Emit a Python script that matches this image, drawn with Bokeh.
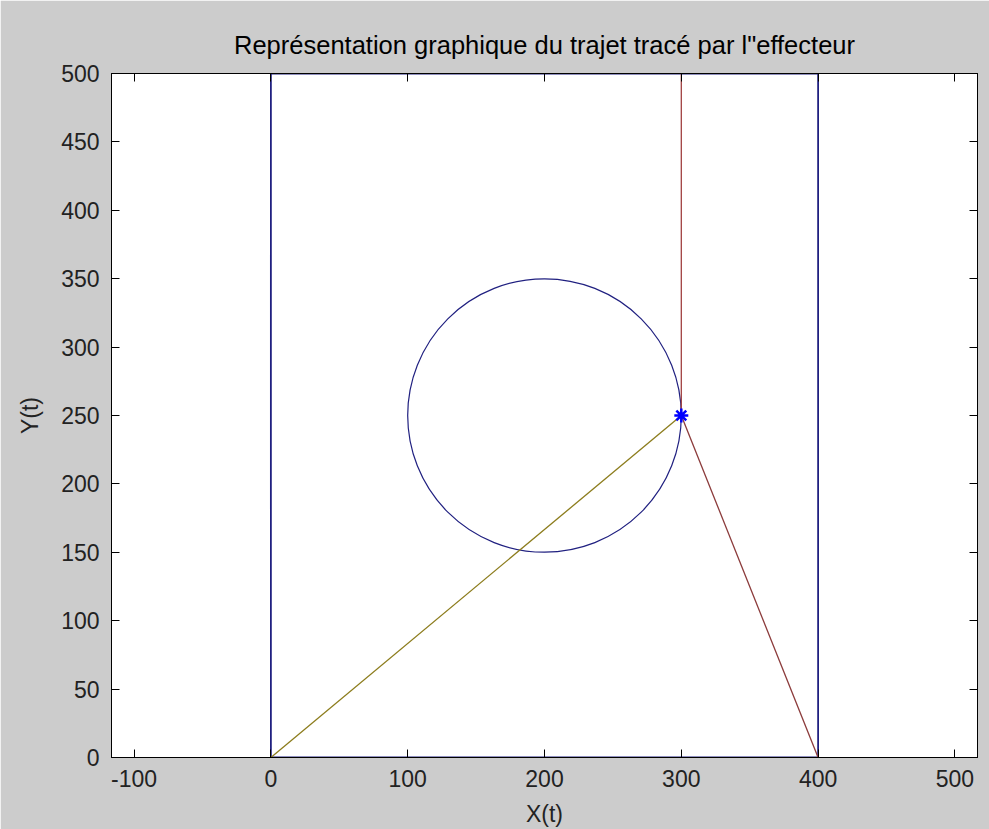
from bokeh.plotting import figure
from bokeh.models import LinearAxis, FixedTicker, Range1d
from bokeh.embed import file_html
from bokeh.resources import INLINE

# ---- data ----
title_text = "Représentation graphique du trajet tracé par l\"effecteur"
x_label = "X(t)"
y_label = "Y(t)"
x_ticks = [-100, 0, 100, 200, 300, 400, 500]
y_ticks = [0, 50, 100, 150, 200, 250, 300, 350, 400, 450, 500]
x_limits = [-116.5, 516.5]
y_limits = [0, 500]

workspace_x = [0, 400, 400, 0, 0]
workspace_y = [0, 0, 500, 500, 0]

circle_cx = [200]
circle_cy = [250]
circle_r = 100

link1_x = [0, 300]
link1_y = [0, 250]
link2_x = [300, 400]
link2_y = [250, 0]
tool_x = [300, 300]
tool_y = [250, 500]

effector_x = [300]
effector_y = [250]

FONT = "Liberation Sans"
GREY = "#cccccc"
TXT = "#222222"

p = figure(width=989, height=829, output_backend="svg", toolbar_location=None,
           x_range=Range1d(*x_limits), y_range=Range1d(*y_limits),
           min_border_left=111, min_border_right=12, min_border_top=73, min_border_bottom=72)
p.border_fill_color = GREY
p.background_fill_color = "white"
p.outline_line_color = "black"
p.outline_line_width = 1
p.grid.visible = False

p.title.text = title_text
p.title.align = "center"
p.title.text_font = FONT
p.title.text_font_size = "25.5px"
p.title.text_font_style = "normal"
p.title.text_color = "black"
p.title.standoff = 30

for ax in (p.xaxis[0], p.yaxis[0]):
    ax.major_tick_in = 8
    ax.major_tick_out = 0
    ax.minor_tick_in = 0
    ax.minor_tick_out = 0
    ax.axis_line_color = "black"
    ax.major_tick_line_color = "black"
    ax.major_label_text_font = FONT
    ax.major_label_text_font_size = "23px"
    ax.major_label_text_color = TXT
    ax.axis_label_text_font = FONT
    ax.axis_label_text_font_size = "23px"
    ax.axis_label_text_font_style = "normal"
    ax.axis_label_text_color = TXT

p.xaxis[0].ticker = FixedTicker(ticks=x_ticks)
p.yaxis[0].ticker = FixedTicker(ticks=y_ticks)
p.xaxis[0].major_label_overrides = {t: str(t) for t in x_ticks}
p.xaxis[0].axis_label = x_label
p.yaxis[0].axis_label = y_label
p.xaxis[0].major_label_standoff = 12
p.xaxis[0].axis_label_standoff = 11
p.yaxis[0].major_label_standoff = 12
p.yaxis[0].axis_label_standoff = 15

# mirrored ticks on top and right (no labels)
top = LinearAxis(ticker=FixedTicker(ticks=x_ticks), major_tick_in=8, major_tick_out=0,
                 minor_tick_in=0, minor_tick_out=0,
                 major_label_overrides={t: "" for t in x_ticks},
                 major_label_standoff=0, axis_line_color="black")
right = LinearAxis(ticker=FixedTicker(ticks=y_ticks), major_tick_in=8, major_tick_out=0,
                   minor_tick_in=0, minor_tick_out=0,
                   major_label_overrides={t: "" for t in y_ticks},
                   major_label_standoff=0, axis_line_color="black")
p.add_layout(top, "above")
p.add_layout(right, "right")

# workspace rectangle
p.line(workspace_x, workspace_y, line_color="#202080", line_width=1.8)
# circle trajectory
p.circle(x=circle_cx, y=circle_cy, radius=circle_r, fill_color=None,
         line_color="#202080", line_width=1.2)
# arm links
p.line(tool_x, tool_y, line_color="#a04040", line_width=1.3)
p.line(link1_x, link1_y, line_color="#8c7c1c", line_width=1.3)
p.line(link2_x, link2_y, line_color="#8c3c3c", line_width=1.3)
# effector
p.scatter(effector_x, effector_y, marker="asterisk", size=14, line_color="#0000ff", line_width=2.5)

open("out.html", "w").write(file_html(p, INLINE))
